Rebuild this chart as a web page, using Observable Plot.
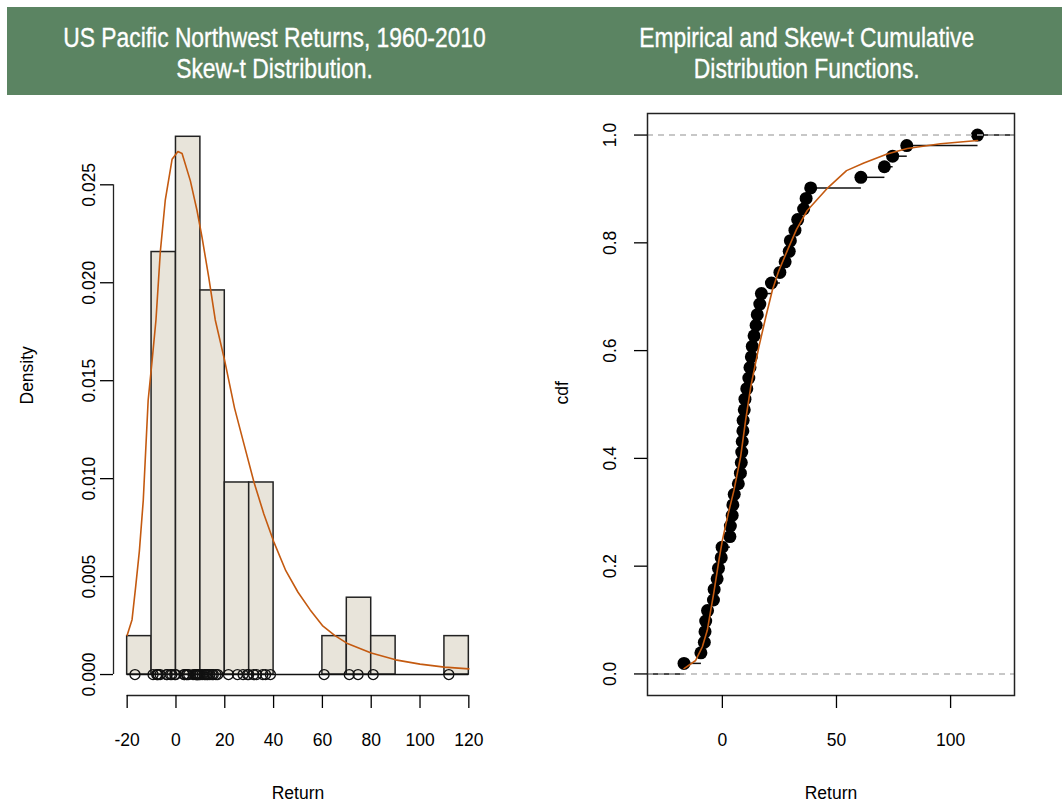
<!DOCTYPE html>
<html>
<head>
<meta charset="utf-8">
<script src="https://cdn.jsdelivr.net/npm/d3@7"></script>
<script src="https://cdn.jsdelivr.net/npm/@observablehq/plot@0.6"></script>
<style>
  body { margin: 0; background: #fff; }
  #page { position: relative; width: 1062px; height: 803px; overflow: hidden; font-family: "Liberation Sans", Arial, sans-serif; }
  #banner { position: absolute; left: 7px; top: 7px; width: 1055px; height: 88px; background: #5b8462; }
  .title { position: absolute; top: 22px; width: 532px; text-align: center; color: #fff; font-size: 27.5px; line-height: 31px; -webkit-text-stroke: 0.35px #fff; }
  .title span { display: inline-block; transform: scaleX(0.83); transform-origin: center; white-space: nowrap; }
  .panel { position: absolute; top: 100px; }
</style>
</head>
<body>
<div id="page">
  <div id="banner"></div>
  <div class="title" style="left:8px"><span>US Pacific Northwest Returns, 1960-2010<br>Skew-t Distribution.</span></div>
  <div class="title" style="left:541px"><span>Empirical and Skew-t Cumulative<br>Distribution Functions.</span></div>
  <div class="panel" id="left" style="left:0px"></div>
  <div class="panel" id="right" style="left:531px"></div>
</div>
<script>
// Annual returns, 1960-2010 (51 years), sorted ascending
const returns = [
  -16.8, -9.4, -7.9, -7.6, -7.3, -6.5, -3.9, -3.6, -2.3, -1.7, -0.5, -0.1,
  3.3, 3.5, 4.3, 4.6, 5.2, 7.0, 7.9, 8.3, 8.5, 8.7, 9.0, 9.1, 9.6, 9.9,
  10.7, 11.6, 12.1, 12.7, 13.1, 13.9, 14.8, 15.3, 16.4, 17.1,
  21.5, 25.2, 27.5, 29.3, 29.8,
  31.8, 33.0, 35.6, 36.7, 38.7,
  60.7, 71.0, 74.6, 80.8, 111.8
];

// Histogram break points
const breaks = [-20, -10, 0, 10, 20, 30, 40, 50, 60, 70, 80, 90, 100, 110, 120];

// Fitted skew-t density
const densityX = [-20, -18, -16.5, -15, -13.4, -11.4, -9.8, -8.2, -6.4, -4.4, -1.6, 0.8, 2.5, 5.9, 8.6, 10.7, 13.4, 16.1, 20, 24, 28, 32, 36, 40, 45, 50, 55, 60, 65, 70, 80, 90, 100, 110, 120];
const densityY = [0.0020, 0.0028, 0.0045, 0.0063, 0.0089, 0.0140, 0.0160, 0.0181, 0.0216, 0.0242, 0.0263, 0.0267, 0.0266, 0.0252, 0.0237, 0.0223, 0.0203, 0.0181, 0.0160, 0.0136, 0.0117, 0.0098, 0.0082, 0.0068, 0.0053, 0.0042, 0.0033, 0.0025, 0.0020, 0.0016, 0.0011, 0.00075, 0.00053, 0.00038, 0.00029];

// Fitted skew-t cumulative distribution
const cdfX = [-16.8, -11.7, -8.8, -6.6, -5.1, -3.7, -1.5, 0, 2.5, 5.1, 8.0, 10.2, 12.4, 16.0, 19.0, 21.9, 24.8, 28.5, 32.5, 37.2, 45.7, 54.4, 62, 72.2, 81, 95.6, 111.8];
const cdfY = [0.010, 0.025, 0.050, 0.081, 0.118, 0.152, 0.211, 0.248, 0.296, 0.341, 0.403, 0.471, 0.532, 0.607, 0.662, 0.712, 0.749, 0.786, 0.825, 0.860, 0.900, 0.934, 0.948, 0.965, 0.975, 0.984, 0.990];

// Axis ticks
const histXTicks = [-20, 0, 20, 40, 60, 80, 100, 120];
const histYTicks = [0, 0.005, 0.010, 0.015, 0.020, 0.025];
const cdfXTicks = [0, 50, 100];
const cdfYTicks = [0, 0.2, 0.4, 0.6, 0.8, 1.0];

const FONT = '"Liberation Sans", Arial, sans-serif';
const FS = 17.5;
const ORANGE = "#c45a10";
const n = returns.length;
const plainNumber = d => String(d); // ASCII hyphen for negatives

// Density histogram, right-closed intervals (a, b]
const bins = breaks.slice(0, -1).map((a, i) => {
  const b = breaks[i + 1];
  const count = returns.filter(v => v > a && v <= b).length;
  return {x1: a, x2: b, density: count / (n * (b - a))};
});
const densityPts = densityX.map((x, i) => ({x, y: densityY[i]}));

const histX = [-25.6, 125.6];
const histY = [-0.00107, 0.02864];

const left = Plot.plot({
  width: 531, height: 703,
  marginTop: 13, marginBottom: 108, marginLeft: 113, marginRight: 49,
  style: {fontFamily: FONT, fontSize: FS + "px", color: "#000", background: "transparent"},
  x: {domain: histX},
  y: {domain: histY},
  marks: [
    Plot.rectY(bins.filter(d => d.density > 0), {x1: "x1", x2: "x2", y: "density", fill: "#e8e4da", stroke: "#222", strokeWidth: 1.5}),
    Plot.ruleY([0], {x1: breaks[0], x2: breaks[breaks.length - 1], stroke: "#111", strokeWidth: 1.6}),
    Plot.line(densityPts, {x: "x", y: "y", stroke: ORANGE, strokeWidth: 1.6}),
    Plot.dot(returns, {x: d => d, y: 0, r: 5, stroke: "#111", strokeWidth: 1.3, fill: "none"}),
    // axis lines spanning the tick range
    Plot.ruleY([histY[0]], {x1: histXTicks[0], x2: histXTicks[histXTicks.length - 1], stroke: "#222", strokeWidth: 1.3}),
    Plot.ruleX([histX[0]], {y1: histYTicks[0], y2: histYTicks[histYTicks.length - 1], stroke: "#222", strokeWidth: 1.3}),
    Plot.axisX(histXTicks, {tickSize: 13, tickPadding: 25, tickFormat: plainNumber, label: null, strokeWidth: 1.3, fontSize: FS}),
    Plot.axisY(histYTicks, {tickSize: 13, tickPadding: 6, tickRotate: -90, tickFormat: d3.format(".3f"), label: null, strokeWidth: 1.3, fontSize: FS}),
    Plot.text(["Return"], {frameAnchor: "bottom", dy: 103, fontSize: FS}),
    Plot.text(["Density"], {frameAnchor: "left", dx: -86, rotate: -90, fontSize: FS})
  ]
});
document.getElementById("left").append(left);

// Empirical CDF: points and horizontal steps
const ecdfPts = returns.map((v, i) => ({x: v, y: (i + 1) / n}));
const cdfXDomain = [-32.8, 128];
const steps = [{x1: cdfXDomain[0], x2: returns[0], y: 0}]
  .concat(returns.map((v, i) => ({x1: v, x2: i + 1 < n ? returns[i + 1] : cdfXDomain[1], y: (i + 1) / n})));
const cdfPts = cdfX.map((x, i) => ({x, y: cdfY[i]}));

const right = Plot.plot({
  width: 531, height: 703,
  marginTop: 13, marginBottom: 108, marginLeft: 116, marginRight: 48,
  style: {fontFamily: FONT, fontSize: FS + "px", color: "#000", background: "transparent"},
  x: {domain: cdfXDomain},
  y: {domain: [-0.04, 1.04]},
  marks: [
    Plot.link(steps, {x1: "x1", x2: "x2", y1: "y", y2: "y", stroke: "#111", strokeWidth: 1.5}),
    Plot.dot(ecdfPts, {x: "x", y: "y", r: 6.5, fill: "#000"}),
    Plot.ruleY([0, 1], {stroke: "#b5b5b5", strokeWidth: 1.4, strokeDasharray: "6,5"}),
    Plot.line(cdfPts, {x: "x", y: "y", stroke: ORANGE, strokeWidth: 1.6}),
    Plot.frame({stroke: "#222", strokeWidth: 1.5}),
    Plot.axisX(cdfXTicks, {tickSize: 13, tickPadding: 25, tickFormat: plainNumber, label: null, strokeWidth: 1.3, fontSize: FS}),
    Plot.axisY(cdfYTicks, {tickSize: 13, tickPadding: 19, tickRotate: -90, tickFormat: d3.format(".1f"), label: null, strokeWidth: 1.3, fontSize: FS}),
    Plot.text(["Return"], {frameAnchor: "bottom", dy: 103, fontSize: FS}),
    Plot.text(["cdf"], {frameAnchor: "left", dx: -85, rotate: -90, fontSize: FS})
  ]
});
document.getElementById("right").append(right);
</script>
</body>
</html>
